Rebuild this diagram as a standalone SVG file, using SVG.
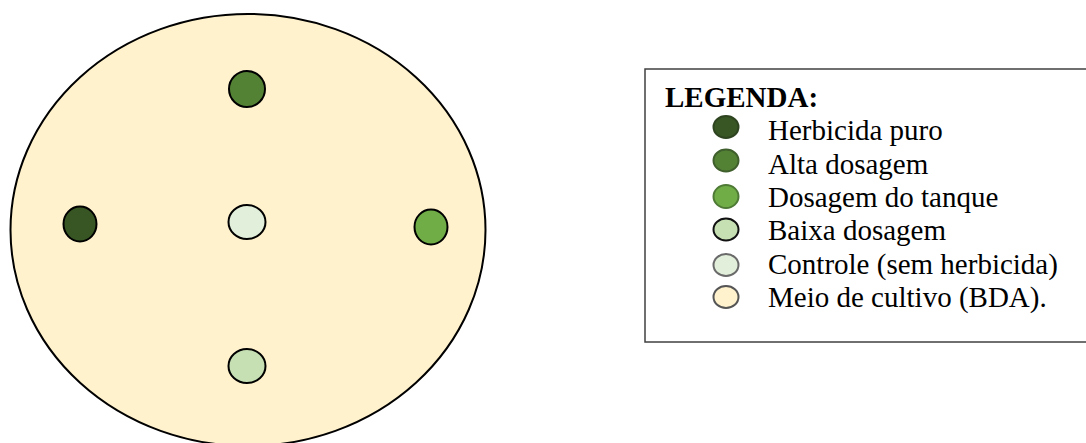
<svg xmlns="http://www.w3.org/2000/svg" width="1086" height="443" viewBox="0 0 1086 443">
<style>
.plate{fill:#FFF2CC;stroke:#000;stroke-width:2}
.well{stroke:#000;stroke-width:2}
.lg{font-family:"Liberation Serif","Times New Roman",serif;font-size:29px;fill:#000}
.lgt{font-weight:bold}
.dot{stroke-width:2}
</style>
<rect width="1086" height="443" fill="#fff"/>
<g id="plate">
<ellipse class="plate" cx="248" cy="230" rx="237.5" ry="216"/>
</g>
<g id="well-alta"><ellipse class="well" cx="247" cy="89" rx="18" ry="18" fill="#548235"/></g>
<g id="well-puro"><ellipse class="well" cx="80" cy="224" rx="16.5" ry="17.5" fill="#375623"/></g>
<g id="well-controle"><ellipse class="well" cx="247" cy="222" rx="18.5" ry="17" fill="#E2EFDA"/></g>
<g id="well-tanque"><ellipse class="well" cx="431" cy="227" rx="16.5" ry="17.5" fill="#70AD47"/></g>
<g id="well-baixa"><ellipse class="well" cx="247" cy="366" rx="18.5" ry="17" fill="#C6E0B4"/></g>
<g id="connectors"></g>
<g id="legend">
<rect x="645" y="69" width="450" height="273" fill="#fff" stroke="#404040" stroke-width="1.5"/>
<text class="lg lgt" x="665" y="107">LEGENDA:</text>
<ellipse class="dot" cx="726" cy="127" rx="12.5" ry="11" fill="#375623" stroke="#2e4420"/>
<ellipse class="dot" cx="726" cy="160.5" rx="12.5" ry="11" fill="#548235" stroke="#3f5f2c"/>
<ellipse class="dot" cx="726" cy="196.5" rx="12.5" ry="11.5" fill="#70AD47" stroke="#4e7a35"/>
<ellipse class="dot" cx="726" cy="229.5" rx="12.5" ry="11" fill="#C6E0B4" stroke="#111"/>
<ellipse class="dot" cx="726" cy="265" rx="12.5" ry="11" fill="#E2EFDA" stroke="#6a6a6a"/>
<ellipse class="dot" cx="726" cy="297" rx="12.5" ry="11" fill="#FFF2CC" stroke="#555"/>
<text class="lg" x="768" y="140">Herbicida puro</text>
<text class="lg" x="768" y="173.5">Alta dosagem</text>
<text class="lg" x="768" y="207">Dosagem do tanque</text>
<text class="lg" x="768" y="240">Baixa dosagem</text>
<text class="lg" x="768" y="273.5">Controle (sem herbicida)</text>
<text class="lg" x="768" y="307">Meio de cultivo (BDA).</text>
</g>
</svg>
